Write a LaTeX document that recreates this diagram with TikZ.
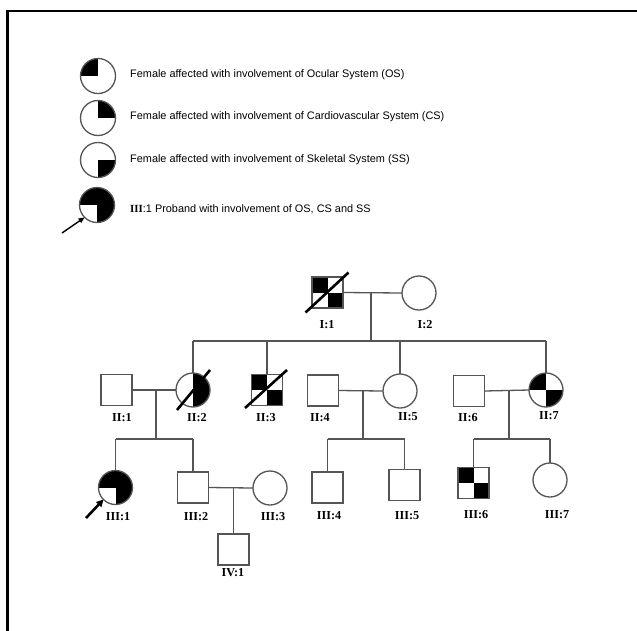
\documentclass[tikz,border=0pt]{standalone}
\usepackage{fontspec}
\setmainfont{Liberation Sans}
\newfontfamily\lblfont{Liberation Serif}
\usetikzlibrary{arrows.meta}
\definecolor{lc}{RGB}{85,85,85}
\tikzset{
  person/.style={draw=lc, line width=1.3pt, inner sep=0pt, outer sep=0pt},
  male/.style={person, rectangle, minimum size=31pt},
  female/.style={person, circle, minimum size=34pt},
  lfemale/.style={person, circle, minimum size=35pt},
  fillq/.style={path picture={\foreach \a in {#1}{\fill[black] (path picture bounding box.center) rectangle (path picture bounding box.\a);}}},
  link/.style={draw=lc, line width=1.3pt},
  dead/.style={draw=black, line width=2.6pt},
  lbl/.style={font=\lblfont\bfseries\fontsize{12.2}{13}\selectfont, inner sep=0pt},
  legtext/.style={font=\fontsize{10.9}{12}\selectfont, anchor=west, inner sep=0pt},
}
\begin{document}
\begin{tikzpicture}[x=1pt,y=-1pt]
\useasboundingbox (0,0) rectangle (637,630);
\fill[white] (0,0) rectangle (637,630);
% frame
\draw[line width=2.5pt] (7.5,631) -- (7.5,11) -- (638,11);

% legend
\node[lfemale, fillq={north west}] (L1) at (98,76) {};
\node[lfemale, fillq={north east}] (L2) at (98,118) {};
\node[lfemale, fillq={south east}] (L3) at (98,160) {};
\node[lfemale, fillq={north west,north east,south east}] (L4) at (97,205) {};
\node[legtext] (T1) at (130,75) {Female affected with involvement of Ocular System (OS)};
\node[legtext] (T2) at (130,117) {Female affected with involvement of Cardiovascular System (CS)};
\node[legtext] (T3) at (130,160) {Female affected with involvement of Skeletal System (SS)};
\node[legtext] (T4) at (130,209) {{\lblfont\bfseries III}:1 Proband with involvement of OS, CS and SS};
\coordinate (la) at (62,233);
\draw[-{Triangle[length=6pt,width=5pt]}, line width=1.4pt] (la) -- (L4.225);

% generation I
\node[male, fillq={north west,south east}] (I1) at (327.5,292.5) {};
\node[female] (I2) at (419,293) {};
\draw[dead] (I1.center) ++(-22,20) -- ++(43,-40);
\node[lbl] at (327,325) {I:1};
\node[lbl] at (425,325) {I:2};
\coordinate (m1) at (371,293);
\coordinate (s1) at (371,341);
\draw[link] (I1.east) -- (I2.west);
\draw[link] (m1) -- (s1);

% generation II
\node[male] (II1) at (116.5,390) {};
\node[female, fillq={north east,south east}] (II2) at (193,390) {};
\node[male, fillq={north west,south east}] (II3) at (267,390) {};
\node[male] (II4) at (323,390.5) {};
\node[female] (II5) at (400,391) {};
\node[male] (II6) at (469,391) {};
\node[female, fillq={north west,south east}] (II7) at (546,390) {};
\draw[dead] (II2.center) ++(-16,20) -- ++(33,-40);
\draw[dead] (II3.center) ++(-22,18) -- ++(42,-38);
\node[lbl] at (122,418) {II:1};
\node[lbl] at (197,418) {II:2};
\node[lbl] at (266,418) {II:3};
\node[lbl] at (320,418) {II:4};
\node[lbl] at (408,417) {II:5};
\node[lbl] at (468,418) {II:6};
\node[lbl] at (549,416) {II:7};

\draw[link] (II2.north |- s1) -- (II7.north |- s1);
\draw[link] (II2.north) -- (II2.north |- s1);
\draw[link] (II3.north) -- (II3.north |- s1);
\draw[link] (II5.north) -- (II5.north |- s1);
\draw[link] (II7.north) -- (II7.north |- s1);

% families of generation II
\draw[link] (II1.east) -- (II2.west);
\coordinate (m2) at (156,390);
\coordinate (s2) at (156,439);
\draw[link] (m2) -- (s2);
\draw[link] (II4.east) -- (II5.west);
\coordinate (m3) at (363,390);
\coordinate (s3) at (363,439);
\draw[link] (m3) -- (s3);
\draw[link] (II6.east) -- (II7.west);
\coordinate (m4) at (509,390);
\coordinate (s4) at (509,439);
\draw[link] (m4) -- (s4);

% generation III
\node[female, fillq={north west,north east,south east}] (III1) at (115.5,487.5) {};
\node[male] (III2) at (193,487.5) {};
\node[female] (III3) at (270,488) {};
\node[male] (III4) at (327.5,487.5) {};
\node[male] (III5) at (404.5,485) {};
\node[male, fillq={north west,south east}] (III6) at (473.5,483) {};
\node[female] (III7) at (550,480) {};
\node[lbl] at (118,517) {III:1};
\node[lbl] at (196,517) {III:2};
\node[lbl] at (273,517) {III:3};
\node[lbl] at (329,516) {III:4};
\node[lbl] at (407,516) {III:5};
\node[lbl] at (476,515) {III:6};
\node[lbl] at (557,515) {III:7};
\coordinate (pa) at (86,518);
\draw[-{Triangle[length=7pt,width=7pt]}, line width=2.6pt] (pa) -- (III1.225);

\draw[link] (III1.north |- s2) -- (III2.north |- s2);
\draw[link] (III1.north) -- (III1.north |- s2);
\draw[link] (III2.north) -- (III2.north |- s2);
\draw[link] (III4.north |- s3) -- (III5.north |- s3);
\draw[link] (III4.north) -- (III4.north |- s3);
\draw[link] (III5.north) -- (III5.north |- s3);
\draw[link] (III6.north |- s4) -- (III7.north |- s4);
\draw[link] (III6.north) -- (III6.north |- s4);
\draw[link] (III7.north) -- (III7.north |- s4);

% generation IV
\draw[link] (III2.east) -- (III3.west);
\node[male] (IV1) at (233.5,549.5) {};
\node[lbl] at (233,573) {IV:1};
\coordinate (m5) at (233.5,488);
\draw[link] (m5) -- (IV1.north);
\end{tikzpicture}
\end{document}
